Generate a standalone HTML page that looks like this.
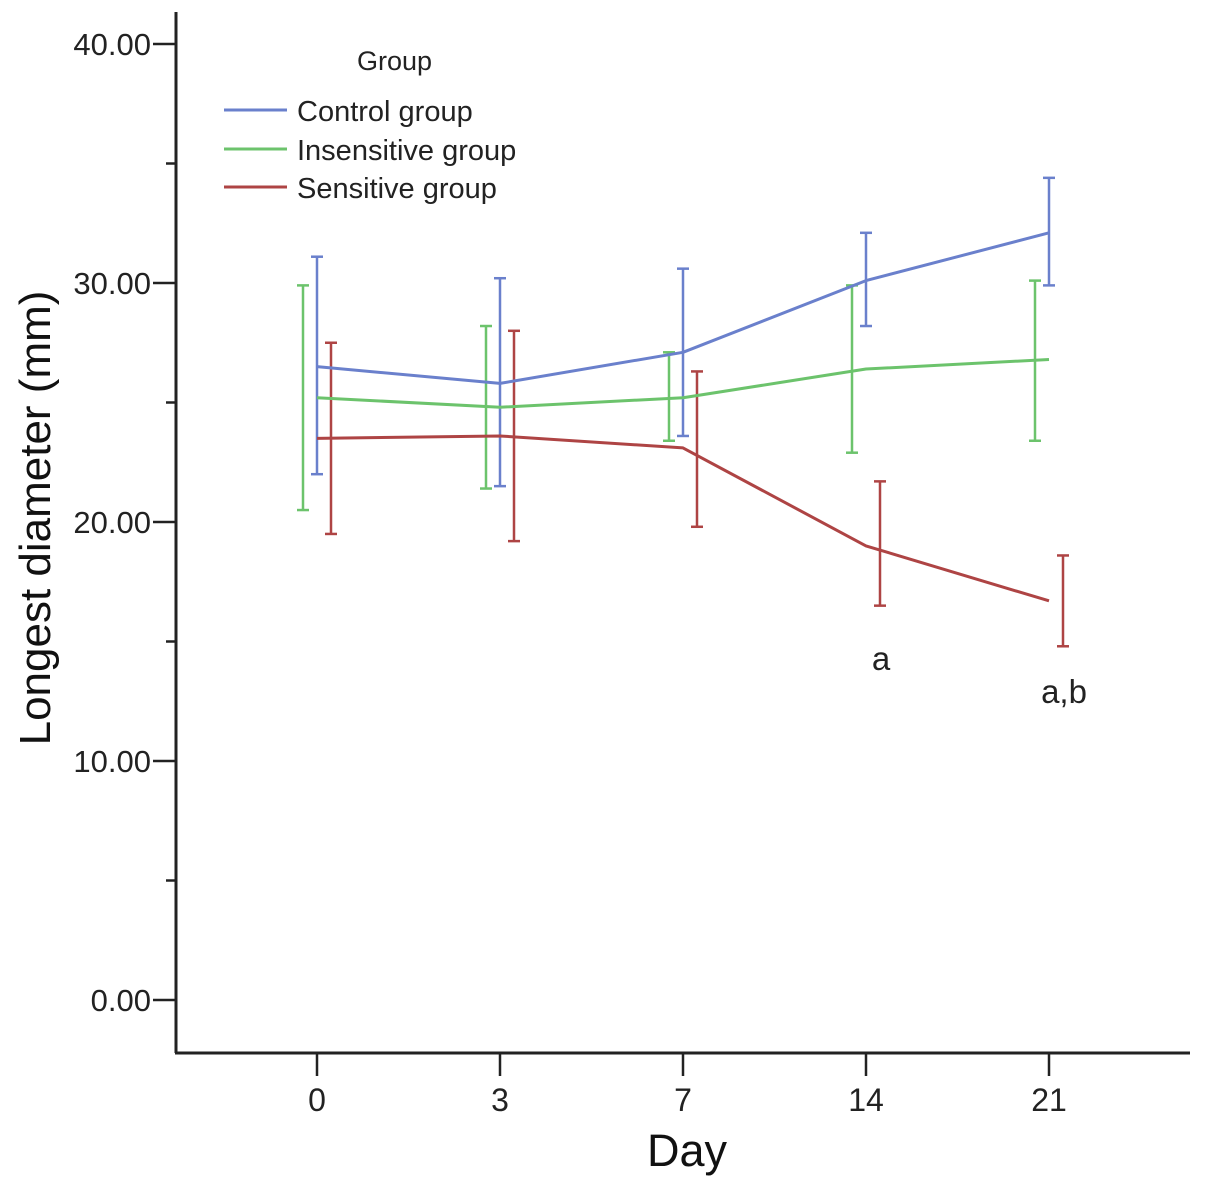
<!DOCTYPE html>
<html><head><meta charset="utf-8"><style>
html,body{margin:0;padding:0;background:#fff;}
svg{display:block;font-family:"Liberation Sans",Arial,sans-serif;}
</style></head><body>
<svg id="chart" width="1205" height="1185" viewBox="0 0 1205 1185" xmlns="http://www.w3.org/2000/svg">
<g id="axes"></g>
<g id="series"></g>
<g>
  <text x="357" y="70" font-size="27" fill="#222">Group</text>
  <line x1="224" y1="110" x2="287" y2="110" stroke="#6a80cc" stroke-width="3"/>
  <text x="297" y="121" font-size="29" fill="#222">Control group</text>
  <line x1="224" y1="149" x2="287" y2="149" stroke="#6cc36c" stroke-width="3"/>
  <text x="297" y="160" font-size="29" fill="#222">Insensitive group</text>
  <line x1="224" y1="187" x2="287" y2="187" stroke="#ae4444" stroke-width="3"/>
  <text x="297" y="198" font-size="29" fill="#222">Sensitive group</text>
</g>
<text transform="translate(50,518) rotate(-90)" text-anchor="middle" font-size="44" fill="#111">Longest diameter (mm)</text>
<text x="687" y="1166" text-anchor="middle" font-size="45" fill="#111">Day</text>
<text x="881" y="670" text-anchor="middle" font-size="33" fill="#222">a</text>
<text x="1064" y="703" text-anchor="middle" font-size="33" fill="#222">a,b</text>
</svg>
<script>
const categories = ["0","3","7","14","21"];
const yTicks = [0,10,20,30,40];
const yTickLabels = ["0.00","10.00","20.00","30.00","40.00"];
const yMinorTicks = [5,15,25,35];
const controlMean = [26.5,25.8,27.1,30.1,32.1];
const controlLow = [22.0,21.5,23.6,28.2,29.9];
const controlHigh = [31.1,30.2,30.6,32.1,34.4];
const insensitiveMean = [25.2,24.8,25.2,26.4,26.8];
const insensitiveLow = [20.5,21.4,23.4,22.9,23.4];
const insensitiveHigh = [29.9,28.2,27.1,29.9,30.1];
const sensitiveMean = [23.5,23.6,23.1,19.0,16.7];
const sensitiveLow = [19.5,19.2,19.8,16.5,14.8];
const sensitiveHigh = [27.5,28.0,26.3,21.7,18.6];

const NS="http://www.w3.org/2000/svg";
function y(v){return 1000-(v/40)*956;}
function x(i){return 317+i*183;}
function mk(tag,attrs,parent){const e=document.createElementNS(NS,tag);for(const k in attrs)e.setAttribute(k,attrs[k]);parent.appendChild(e);return e;}
const axes=document.getElementById('axes');
const ser=document.getElementById('series');
let el=mk('line',{x1:176,y1:12,x2:176,y2:1053,stroke:'#222','stroke-width':3},axes);


el=mk('line',{x1:175,y1:1053,x2:1190,y2:1053,stroke:'#222','stroke-width':3},axes);


yTicks.forEach((t,i)=>{
  const tk=mk('line',{x1:153,y1:y(t),x2:176,y2:y(t),stroke:'#222','stroke-width':2.5},axes);
  
  
  const lb=mk('text',{x:151,y:y(t)+11,'text-anchor':'end','font-size':31,fill:'#222'},axes);
  lb.textContent=yTickLabels[i];
  
  
});
yMinorTicks.forEach(t=>{
  const tk=mk('line',{x1:166,y1:y(t),x2:176,y2:y(t),stroke:'#222','stroke-width':2.5},axes);
  
  
});
categories.forEach((c,i)=>{
  const tk=mk('line',{x1:x(i),y1:1053,x2:x(i),y2:1076,stroke:'#222','stroke-width':2.5},axes);
  
  
  const lb=mk('text',{x:x(i),y:1111,'text-anchor':'middle','font-size':32,fill:'#222'},axes);
  lb.textContent=c;
  
  
});
const series=[
  {name:'insensitive',mean:insensitiveMean,low:insensitiveLow,high:insensitiveHigh,color:'#6cc36c',off:-14},
  {name:'sensitive',mean:sensitiveMean,low:sensitiveLow,high:sensitiveHigh,color:'#ae4444',off:14},
  {name:'control',mean:controlMean,low:controlLow,high:controlHigh,color:'#6a80cc',off:0}
];
series.forEach(s=>{
  s.mean.forEach((m,i)=>{
    const bx=x(i)+s.off;
    const g=mk('g',{},ser);
    
    
    mk('line',{x1:bx,y1:y(s.low[i]),x2:bx,y2:y(s.high[i]),stroke:s.color,'stroke-width':2.5},g);
    mk('line',{x1:bx-6,y1:y(s.low[i]),x2:bx+6,y2:y(s.low[i]),stroke:s.color,'stroke-width':2.5},g);
    mk('line',{x1:bx-6,y1:y(s.high[i]),x2:bx+6,y2:y(s.high[i]),stroke:s.color,'stroke-width':2.5},g);
  });
});
series.forEach(s=>{
  const pts=s.mean.map((m,i)=>x(i)+','+y(m)).join(' ');
  const pl=mk('polyline',{points:pts,fill:'none',stroke:s.color,'stroke-width':3,'stroke-linejoin':'round'},ser);
  
  
});
</script>
</body></html>
